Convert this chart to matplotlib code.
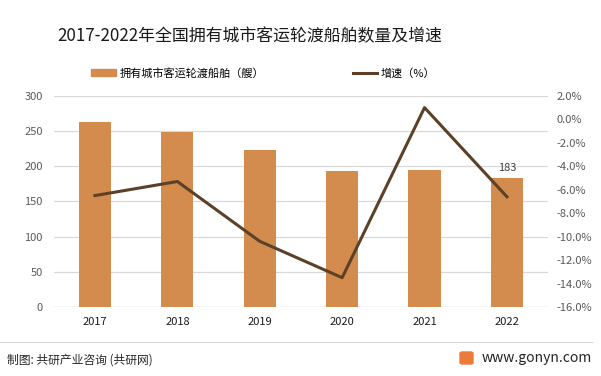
import matplotlib.pyplot as plt
from matplotlib.patches import FancyBboxPatch, Patch
from matplotlib.lines import Line2D

plt.rcParams['font.family'] = ['Noto Sans CJK SC', 'DejaVu Sans']

# datos
anios = ["2017", "2018", "2019", "2020", "2021", "2022"]
barcos = [263, 249, 223, 193, 195, 183]
crecimiento = [-6.5, -5.3, -10.4, -13.5, 1.0, -6.6]

colorBarra = "#D38B4E"
colorLinea = "#5C4128"

fig = plt.figure(figsize=(6.01, 3.76), dpi=100)
ax = fig.add_axes([0.0895, 0.1835, 0.8225, 0.5615])
x = range(len(anios))

ax.bar(x, barcos, width=0.39, color=colorBarra, zorder=2)
ax.set_ylim(0, 300)
ax.set_xlim(-0.5, len(anios) - 0.5)
ax.set_yticks(range(0, 301, 50))
ax.grid(axis="y", color="#D9D9D9", linewidth=0.9, zorder=0)
ax.set_xticks(list(x))
ax.set_xticklabels(anios, fontsize=8, color="#1a1a1a")
ax.tick_params(axis="y", labelsize=8, labelcolor="#595959", length=0, pad=8)
ax.tick_params(axis="x", length=0, pad=7)
for s in ax.spines.values():
    s.set_visible(False)
ax.axhline(0, color="#D9D9D9", linewidth=0.9, zorder=1)

# etiqueta del ultimo anio
ax.text(5, barcos[-1] + 8, str(barcos[-1]), ha="center", va="bottom", fontsize=8, color="#404040")

ax2 = ax.twinx()
ax2.plot(list(x), crecimiento, color=colorLinea, linewidth=2.2, zorder=3)
ax2.set_ylim(-16, 2)
ax2.set_yticks(range(-16, 3, 2))
ax2.set_yticklabels(["%.1f%%" % v for v in range(-16, 3, 2)])
ax2.tick_params(axis="y", labelsize=8, labelcolor="#595959", length=0, pad=6)
for s in ax2.spines.values():
    s.set_visible(False)

# titulo y leyenda
fig.text(0.096, 0.905, "2017-2022年全国拥有城市客运轮渡船舶数量及增速", fontsize=12.2, color="#1a1a1a", va="center")
fig.legend(handles=[Patch(color=colorBarra, label="拥有城市客运轮渡船舶（艘）"),
                    Line2D([0], [0], color=colorLinea, linewidth=2.2, label="增速（%）")],
           loc="center", bbox_to_anchor=(0.438, 0.805), ncol=2, frameon=False, fontsize=8,
           handlelength=2.2, handleheight=0.6, columnspacing=8, handletextpad=0.3)

# pie de pagina
fig.add_artist(Line2D([0.0, 0.985], [1 - 342 / 376, 1 - 342 / 376], color="#D9D9D9", linewidth=0.8))
fig.text(0.012, 1 - 360 / 376, "制图: 共研产业咨询 (共研网)", fontsize=8.5, color="#262626", va="center")
fig.add_artist(FancyBboxPatch((460 / 601, 1 - 364 / 376), 13 / 601, 12 / 376,
                              boxstyle="round,pad=0,rounding_size=0.004", color="#EE7A3A"))
fig.text(482 / 601, 1 - 358 / 376, "www.gonyn.com", fontsize=10, color="#262626", va="center")

plt.savefig("out.png", dpi=100)
